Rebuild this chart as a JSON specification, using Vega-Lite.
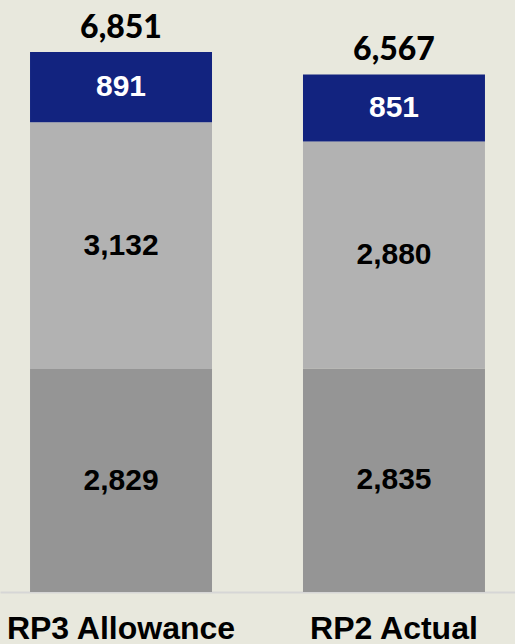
{
  "$schema": "https://vega.github.io/schema/vega-lite/v6.json",
  "width": 515,
  "height": 592,
  "autosize": {"type": "none"},
  "padding": {"top": 0, "left": 0, "right": 0, "bottom": 52},
  "background": "#e8e8dd",
  "config": {"view": {"stroke": null}},
  "datasets": {
    "segments": [
      {"category": "RP3 Allowance", "segment": "A", "value": 2829},
      {"category": "RP3 Allowance", "segment": "B", "value": 3132},
      {"category": "RP3 Allowance", "segment": "C", "value": 891},
      {"category": "RP2 Actual", "segment": "A", "value": 2835},
      {"category": "RP2 Actual", "segment": "B", "value": 2880},
      {"category": "RP2 Actual", "segment": "C", "value": 851}
    ],
    "totals": [
      {"category": "RP3 Allowance", "total": 6851},
      {"category": "RP2 Actual", "total": 6567}
    ]
  },
  "data": {"name": "segments"},
  "encoding": {
    "x": {
      "field": "category",
      "type": "nominal",
      "sort": ["RP3 Allowance", "RP2 Actual"],
      "scale": {"paddingInner": 0.3333, "paddingOuter": 0.11},
      "axis": {
        "title": null,
        "ticks": false,
        "labelAngle": 0,
        "labelLimit": 0,
        "labelFont": "Liberation Sans",
        "labelFontWeight": "bold",
        "labelFontSize": 32,
        "labelColor": "#000000",
        "labelPadding": 21,
        "labelBaseline": "top",
        "domainColor": "#d6d6d6",
        "domainWidth": 2
      }
    }
  },
  "layer": [
    {
      "transform": [
        {"stack": "value", "groupby": ["category"], "sort": [{"field": "segment", "order": "ascending"}], "as": ["v0", "v1"]}
      ],
      "mark": {"type": "bar"},
      "encoding": {
        "y": {"field": "v0", "type": "quantitative", "scale": {"domain": [0, 7511], "nice": false}, "axis": null},
        "y2": {"field": "v1"},
        "color": {
          "field": "segment",
          "type": "nominal",
          "scale": {"domain": ["A", "B", "C"], "range": ["#959595", "#b2b2b2", "#12237f"]},
          "legend": null
        }
      }
    },
    {
      "transform": [
        {"stack": "value", "groupby": ["category"], "sort": [{"field": "segment", "order": "ascending"}], "as": ["v0", "v1"]},
        {"calculate": "(datum.v0 + datum.v1) / 2", "as": "mid"}
      ],
      "mark": {"type": "text", "font": "Liberation Sans", "fontWeight": "bold", "fontSize": 30, "baseline": "middle", "align": "center"},
      "encoding": {
        "y": {"field": "mid", "type": "quantitative"},
        "text": {"field": "value", "type": "quantitative", "format": ","},
        "color": {"condition": {"test": "datum.segment == 'C'", "value": "#ffffff"}, "value": "#000000"}
      }
    },
    {
      "data": {"name": "totals"},
      "mark": {"type": "text", "font": "Lato", "fontWeight": 900, "fontSize": 32, "baseline": "alphabetic", "align": "center", "dy": -14, "color": "#000000"},
      "encoding": {
        "y": {"field": "total", "type": "quantitative"},
        "text": {"field": "total", "type": "quantitative", "format": ","}
      }
    }
  ]
}
